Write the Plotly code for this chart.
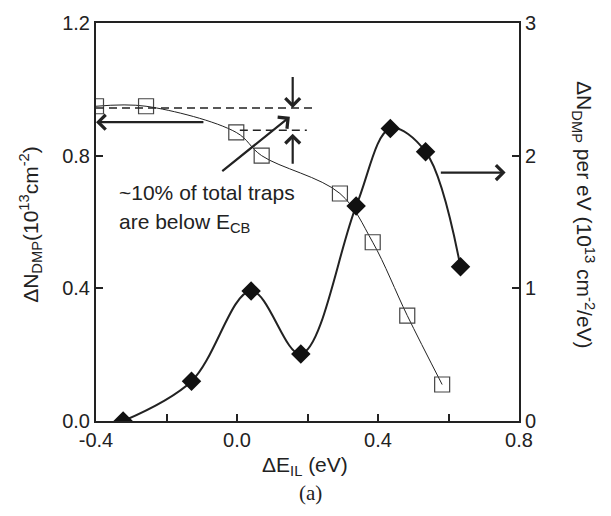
import plotly.graph_objects as go

# ---- data ----
sq_x = [-0.400, -0.258, -0.002, 0.070, 0.292, 0.385, 0.483, 0.582]
sq_y = [0.949, 0.949, 0.870, 0.800, 0.686, 0.539, 0.318, 0.110]

dm_x = [-0.323, -0.129, 0.040, 0.181, 0.338, 0.435, 0.535, 0.634]
dm_y = [0.000, 0.300, 0.980, 0.505, 1.620, 2.205, 2.030, 1.163]

x_tickvals = [-0.4, 0.0, 0.4, 0.8]
x_ticktext = ["-0.4", "0.0", "0.4", "0.8"]
x_minorvals = [-0.2, 0.2, 0.6]
y1_tickvals = [0.0, 0.4, 0.8, 1.2]
y1_ticktext = ["0.0", "0.4", "0.8", "1.2"]
y2_tickvals = [0, 1, 2, 3]
y2_ticktext = ["0", "1", "2", "3"]

# annotation geometry (data units): (tip_x, tip_y, tail_x, tail_y)
arrows = [
    (0.158, 0.944, 0.158, 1.042),   # down arrow
    (0.158, 0.866, 0.158, 0.771),   # up arrow
    (0.150, 0.917, -0.046, 0.750),  # diagonal arrow
    (-0.400, 0.901, -0.091, 0.901), # left arrow (to left axis)
    (0.762, 0.749, 0.574, 0.749),   # right arrow (to right axis)
]
dashes = [
    (-0.400, 0.221, 0.944),
    (0.008, 0.198, 0.877),
]

FONT = "Arial"
INK = "#222222"

fig = go.Figure()

fig.add_trace(go.Scatter(
    x=sq_x, y=sq_y, mode="lines+markers",
    line=dict(color=INK, width=1, shape="spline", smoothing=1.0),
    marker=dict(symbol="square-open", size=15, color="#444444",
                line=dict(width=1.2, color="#444444")),
    yaxis="y", showlegend=False,
))
fig.add_trace(go.Scatter(
    x=dm_x, y=dm_y, mode="lines+markers",
    line=dict(color=INK, width=2, shape="spline", smoothing=1.0),
    marker=dict(symbol="diamond", size=15, color="#111111"),
    yaxis="y2", showlegend=False,
))

for x0, x1, yy in dashes:
    fig.add_shape(type="line", x0=x0, x1=x1, y0=yy, y1=yy, xref="x", yref="y",
                  line=dict(color=INK, width=1.5, dash="8px,5px"))

annotations = []
for tx, ty, axx, ayy in arrows:
    annotations.append(dict(
        x=tx, y=ty, ax=axx, ay=ayy, xref="x", yref="y", axref="x", ayref="y",
        text="", showarrow=True, arrowhead=4, arrowsize=1.3, arrowwidth=2.2,
        arrowcolor=INK, standoff=0, startstandoff=0,
    ))

annotations += [
    dict(x=-0.341, y=0.690, xref="x", yref="y", text="~10% of total traps",
         showarrow=False, xanchor="left", yanchor="middle",
         font=dict(family=FONT, size=21, color=INK)),
    dict(x=-0.341, y=0.597, xref="x", yref="y", text="are below E<sub>CB</sub>",
         showarrow=False, xanchor="left", yanchor="middle",
         font=dict(family=FONT, size=21, color=INK)),
    dict(x=-0.154, y=0.495, xref="paper", yref="paper",
         text="ΔN<sub>DMP</sub>(10<sup>13</sup>cm<sup>-2</sup>)",
         textangle=-90, showarrow=False, xanchor="center", yanchor="middle",
         font=dict(family=FONT, size=21, color=INK)),
    dict(x=1.154, y=0.517, xref="paper", yref="paper",
         text="ΔN<sub>DMP</sub> per eV (10<sup>13</sup> cm<sup>-2</sup>/eV)",
         textangle=90, showarrow=False, xanchor="center", yanchor="middle",
         font=dict(family=FONT, size=21, color=INK)),
    dict(x=0.494, y=-0.114, xref="paper", yref="paper",
         text="ΔE<sub>IL</sub> (eV)", showarrow=False,
         xanchor="center", yanchor="middle",
         font=dict(family=FONT, size=21, color=INK)),
    dict(x=0.506, y=-0.182, xref="paper", yref="paper",
         text="(a)", showarrow=False, xanchor="center", yanchor="middle",
         font=dict(family="Times New Roman", size=21, color=INK)),
]

axis_common = dict(
    showgrid=False, zeroline=False, showline=True, linecolor=INK, linewidth=2,
    ticks="inside", ticklen=7, tickwidth=1.5, tickcolor=INK,
    tickfont=dict(family=FONT, size=20, color=INK),
)

fig.update_layout(
    width=611, height=516,
    margin=dict(l=96, r=92, t=15, b=95),
    paper_bgcolor="white", plot_bgcolor="white",
    font=dict(family=FONT, color=INK),
    xaxis=dict(range=[-0.4, 0.8], tickvals=x_tickvals, ticktext=x_ticktext,
               minor=dict(tickvals=x_minorvals, ticks="inside", ticklen=7,
                          tickwidth=1.5, tickcolor=INK, showgrid=False),
               mirror=True, **axis_common),
    yaxis=dict(range=[0, 1.2], tickvals=y1_tickvals, ticktext=y1_ticktext,
               **axis_common),
    yaxis2=dict(range=[0, 3], tickvals=y2_tickvals, ticktext=y2_ticktext,
                overlaying="y", side="right", **axis_common),
    annotations=annotations,
)

fig.write_html("out.html", config={"displayModeBar": False},
               post_script="document.body.style.margin='0';")
